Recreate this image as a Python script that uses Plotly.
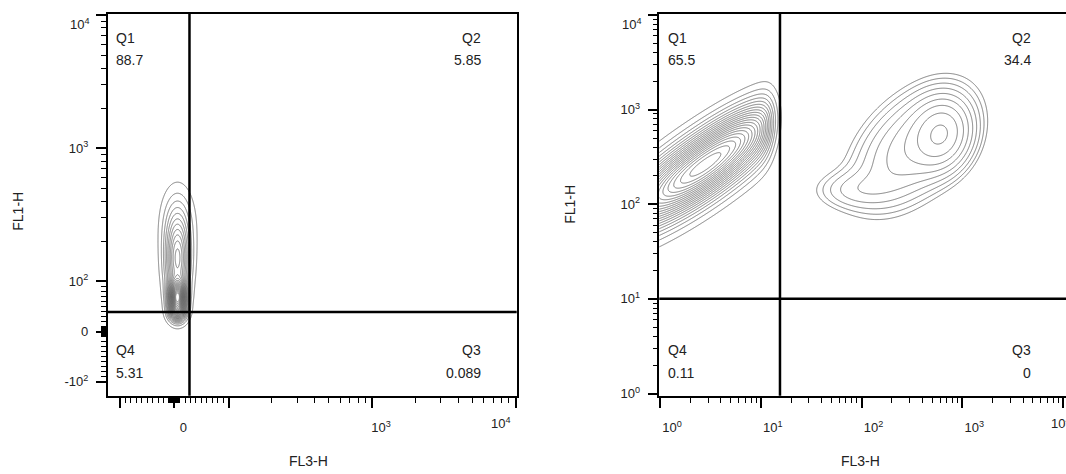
import numpy as np
import plotly.graph_objects as go

W, H = 1066, 474

# ---------------- values ----------------
# Left panel: biexponential display, FL3-H (x) vs FL1-H (y)
left_x_major = [-100, 0, 100, 1000, 10000]
left_x_labels = ["", "0", "", "10<sup>3</sup>", ""]
left_y_major = [-100, 0, 100, 1000, 10000]
left_y_labels = ["-10<sup>2</sup>", "0", "10<sup>2</sup>", "10<sup>3</sup>", ""]
left_gate_x = 28
left_gate_y = 39
left_q_names = ["Q1", "Q2", "Q3", "Q4"]
left_q_values = ["88.7", "5.85", "0.089", "5.31"]
# population components: centre (data units), spread (display decades), weight
left_cx = [6, 6, 6, 6]
left_cy = [69, 139, 280, 39]
left_sx = [0.038, 0.058, 0.075, 0.04]
left_sy = [0.07, 0.20, 0.18, 0.05]
left_w = [1.0, 0.5, 0.15, 0.5]

# Right panel: log display
right_x_major = [1, 10, 100, 1000, 10000]
right_x_labels = ["10<sup>0</sup>", "10<sup>1</sup>", "10<sup>2</sup>", "10<sup>3</sup>", ""]
right_y_major = [1, 10, 100, 1000, 10000]
right_y_labels = ["10<sup>0</sup>", "10<sup>1</sup>", "10<sup>2</sup>", "10<sup>3</sup>", ""]
top_label = "10<sup>4</sup>"
right_gate_x = 15.5
right_gate_y = 10
right_q_names = ["Q1", "Q2", "Q3", "Q4"]
right_q_values = ["65.5", "34.4", "0", "0.11"]
# Q1 population (FL3-low) components
r1_cx = [2.45, 6.0]
r1_cy = [234, 560]
r1_sx = [0.55, 0.25]
r1_sy = [0.435, 0.22]
r1_rho = [0.834, 0.6]
r1_w = [1.0, 0.12]
r1_edge = 13.0   # FL3 value where the population ends sharply
# Q2 population components
r2_cx = [631, 316, 79]
r2_cy = [550, 398, 141]
r2_sx = [0.17, 0.35, 0.25]
r2_sy = [0.22, 0.38, 0.13]
r2_rho = [0.1, 0.45, 0.0]
r2_w = [1.0, 0.60, 0.18]

# ---------------- helpers ----------------
A = 0.378  # display decades occupied by 0..100 in the linear part


def biex(v):
    v = np.asarray(v, dtype=float)
    av = np.abs(v)
    out = np.where(av <= 100, av / 100 * A, A + np.log10(np.maximum(av, 1e-9) / 100))
    return np.sign(v) * out


def gauss(X, Y, cx, cy, sx, sy, rho=0.0):
    dx = (X - cx) / sx
    dy = (Y - cy) / sy
    q = (dx * dx - 2 * rho * dx * dy + dy * dy) / (1 - rho * rho)
    return np.exp(-0.5 * q)


FONT = "Liberation Sans, Arial, sans-serif"
TXT = "#222222"
LINE = "#5f5f5f"

fig = go.Figure()

# ---- left contours (equal-spaced density levels)
gx = np.linspace(-0.35, 0.45, 320)
gy = np.linspace(-0.35, 1.6, 700)
X, Y = np.meshgrid(gx, gy)
Z = np.zeros_like(X)
for cx, cy, sx, sy, w in zip(left_cx, left_cy, left_sx, left_sy, left_w):
    Z += w * gauss(X, Y, float(biex(cx)), float(biex(cy)), sx, sy)
Z = Z / Z.max()
fig.add_trace(go.Contour(x=gx, y=gy, z=Z, xaxis="x", yaxis="y",
                         contours=dict(coloring="none", start=0.035, end=0.98, size=0.038),
                         line=dict(color=LINE, width=0.8), showscale=False, hoverinfo="skip"))

# ---- right contours, Q1 population
hx = np.linspace(-0.8, 1.7, 500)
hy = np.linspace(0.8, 3.9, 620)
X, Y = np.meshgrid(hx, hy)
Z = np.zeros_like(X)
for cx, cy, sx, sy, r, w in zip(r1_cx, r1_cy, r1_sx, r1_sy, r1_rho, r1_w):
    Z += w * gauss(X, Y, np.log10(cx), np.log10(cy), sx, sy, r)
Z *= 1 / (1 + np.exp((X - np.log10(r1_edge)) / 0.05))
Z = Z / Z.max()
fig.add_trace(go.Contour(x=hx, y=hy, z=Z, xaxis="x2", yaxis="y2",
                         contours=dict(coloring="none", start=0.05, end=0.97, size=0.046),
                         line=dict(color=LINE, width=0.8), showscale=False, hoverinfo="skip"))

# ---- right contours, Q2 population (log-spaced levels)
kx = np.linspace(1.0, 3.8, 420)
ky = np.linspace(1.2, 3.9, 420)
X, Y = np.meshgrid(kx, ky)
Z = np.zeros_like(X)
for cx, cy, sx, sy, r, w in zip(r2_cx, r2_cy, r2_sx, r2_sy, r2_rho, r2_w):
    Z += w * gauss(X, Y, np.log10(cx), np.log10(cy), sx, sy, r)
Z = np.log(Z / Z.max() + 1e-12)
lo, hi = np.log(0.06), np.log(0.92)
fig.add_trace(go.Contour(x=kx, y=ky, z=Z, xaxis="x2", yaxis="y2",
                         contours=dict(coloring="none", start=lo, end=hi, size=(hi - lo) / 8),
                         line=dict(color=LINE, width=0.8), showscale=False, hoverinfo="skip"))

# ---------------- axes ----------------
left_minor = sorted(set(
    [s * m * d for s in (1, -1) for d in (1, 10) for m in range(1, 10)]
    + [m * d for d in (100, 1000) for m in range(2, 10)]))
left_minor = [v for v in left_minor if v not in left_x_major]
right_minor = [m * 10 ** k for k in range(0, 4) for m in range(2, 10)]


def axis_common():
    return dict(showline=True, linecolor="black", linewidth=1.5, showgrid=False, zeroline=False,
                ticks="outside", ticklen=10, tickwidth=2, tickcolor="black",
                tickfont=dict(family=FONT, size=13, color=TXT), fixedrange=True)


def minor(vals):
    return dict(tickmode="array", tickvals=list(vals), ticks="outside",
                ticklen=5, tickwidth=1, tickcolor="black")


yd = [1 - 400 / H, 1 - 14 / H]
lx = axis_common()
lx.update(domain=[107.7 / W, 516.7 / W], range=[-0.464, 2.386], anchor="y", mirror=True,
          tickmode="array", tickvals=list(biex(left_x_major)), ticktext=left_x_labels,
          ticklabelshift=9, ticklabelstandoff=9, minor=minor(biex(left_minor)))
ly = axis_common()
ly.update(domain=yd, range=[-0.483, 2.387], anchor="x", mirror=True,
          tickmode="array", tickvals=list(biex(left_y_major)), ticktext=left_y_labels,
          ticklabelstandoff=5, minor=minor(biex(left_minor)))
rx = axis_common()
rx.update(domain=[659.3 / W, 1.0], range=[-0.007, 4.028], anchor="y2", mirror=True,
          tickmode="array", tickvals=list(np.log10(right_x_major)), ticktext=right_x_labels,
          ticklabelshift=12, ticklabelstandoff=9, minor=minor(np.log10(right_minor)))
ry = axis_common()
ry.update(domain=yd, range=[-0.024, 4.011], anchor="x2", mirror=False,
          tickmode="array", tickvals=list(np.log10(right_y_major)), ticktext=right_y_labels,
          ticklabelstandoff=5, minor=minor(np.log10(right_minor)))

# ---------------- gates ----------------
shapes = [
    dict(type="line", xref="x", yref="y domain", x0=float(biex(left_gate_x)), x1=float(biex(left_gate_x)),
         y0=0, y1=1, line=dict(color="black", width=2.5)),
    dict(type="line", xref="x domain", yref="y", x0=0, x1=1, y0=float(biex(left_gate_y)),
         y1=float(biex(left_gate_y)), line=dict(color="black", width=2.5)),
    dict(type="line", xref="x2", yref="y2 domain", x0=np.log10(right_gate_x), x1=np.log10(right_gate_x),
         y0=0, y1=1, line=dict(color="black", width=2.5)),
    dict(type="line", xref="x2 domain", yref="y2", x0=0, x1=1, y0=np.log10(right_gate_y),
         y1=np.log10(right_gate_y), line=dict(color="black", width=2.5)),
]

# ---------------- texts ----------------
ann = []


def txt(s, px, py, anchor="left", size=14, angle=0):
    ann.append(dict(text=s, x=px / W, y=1 - py / H, xref="paper", yref="paper", showarrow=False,
                    xanchor=anchor, yanchor="middle", textangle=angle,
                    font=dict(family=FONT, size=size, color=TXT)))


for names, vals, xl, xr in ((left_q_names, left_q_values, 114, 483),
                            (right_q_names, right_q_values, 666, 1033)):
    txt(names[0], xl, 38); txt(vals[0], xl, 61)
    txt(names[1], xr, 38, "right"); txt(vals[1], xr, 61, "right")
    txt(names[2], xr, 354, "right"); txt(vals[2], xr, 377, "right")
    txt(names[3], xl, 354); txt(vals[3], xl, 377)

# top-of-scale labels, pulled inside the frame as in the original
txt(top_label, 92, 24, "right", 13)
txt(top_label, 644, 24, "right", 13)
txt(top_label, 501, 428, "center", 13)
txt(top_label, 1049, 428, "left", 13)

txt("FL1-H", 18, 214, "center", 14, -90)
txt("FL1-H", 570, 207, "center", 14, -90)
txt("FL3-H", 308, 466, "center", 14)
txt("FL3-H", 860, 466, "center", 14)

fig.update_layout(width=W, height=H, margin=dict(l=0, r=0, t=0, b=0),
                  paper_bgcolor="white", plot_bgcolor="white", showlegend=False,
                  xaxis=lx, yaxis=ly, xaxis2=rx, yaxis2=ry, shapes=shapes, annotations=ann)

fig.write_html("out.html")
